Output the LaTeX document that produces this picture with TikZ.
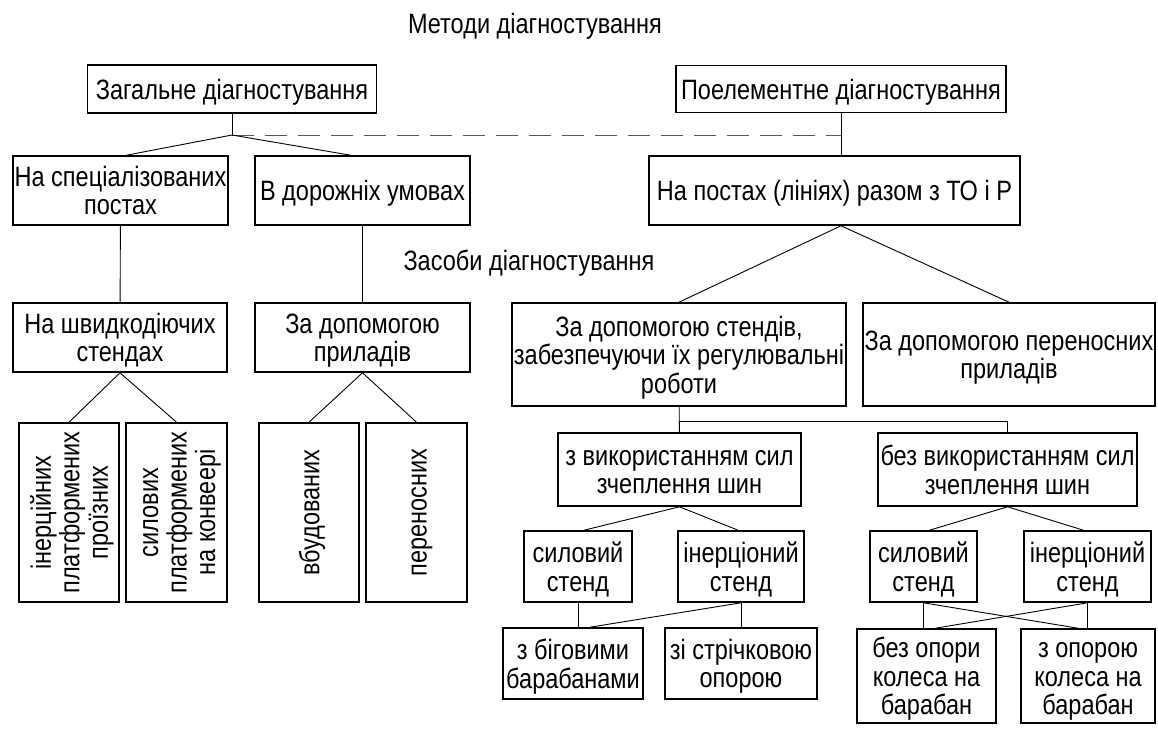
\documentclass[tikz,border=0pt]{standalone}
\usepackage{fontspec}
\setmainfont{Liberation Sans}[FakeStretch=0.84]
% first-line strut, so every box is centred on cap height and baseline
\newcommand\cs{\rule{0pt}{20pt}}
\tikzset{
  box/.style 2 args={draw, line width=1.6pt, minimum width=#1, minimum height=#2,
    inner sep=0pt, align=center, font=\fontsize{28}{28.5}\selectfont, text depth=0pt},
  vbox/.style 2 args={box={#1}{#2}, rotate=90},
  heading/.style={font=\fontsize{28}{28.5}\selectfont},
  link/.style={line width=0.9pt},
  hint/.style={line width=1pt, black!65, dash pattern=on 22pt off 11pt},
}
\begin{document}
\begin{tikzpicture}[x=1pt,y=-1pt]
      \useasboundingbox (0,0) rectangle (1158,728);
      \draw
        (535,33) node[heading,anchor=base] (title){Методи діагностування}
        (400,270) node[heading,anchor=base west] (means){Засоби діагностування}
        (232,89) node[box={289pt}{48pt}] (gen){\cs Загальне діагностування}
        (841,89) node[box={330pt}{47pt}] (elem){\cs Поелементне діагностування}
        (120.5,190.5) node[box={215pt}{69pt}] (spec){\cs На спеціалізованих\\постах}
        (362.5,190.5) node[box={215pt}{69pt}] (road){\cs В дорожніх умовах}
        (834.5,190.5) node[box={371pt}{69pt}] (posts){\cs На постах (лініях) разом з ТО і Р}
        (120,337.5) node[box={214pt}{69pt}] (fast){\cs На швидкодіючих\\стендах}
        (362.5,337.5) node[box={215pt}{69pt}] (instr){\cs За допомогою\\приладів}
        (679,354.5) node[box={334pt}{103pt}] (stands){\cs За допомогою стендів,\\забезпечуючи їх регулювальні\\роботи}
        (1009,354.5) node[box={292pt}{103pt}] (portable){\cs За допомогою переносних\\приладів}
        (69,512.5) node[vbox={179pt}{100pt}] (v1){\cs інерційних\\платформених\\проїзних}
        (176.5,512.5) node[vbox={179pt}{101pt}] (v2){\cs силових\\платформених\\на конвеері}
        (309,512.5) node[vbox={179pt}{100pt}] (v3){\cs вбудованих}
        (416.5,512.5) node[vbox={179pt}{101pt}] (v4){\cs переносних}
        (679.5,469.5) node[box={243pt}{73pt}] (use){\cs з використанням сил\\зчеплення шин}
        (1007.5,469.5) node[box={259pt}{73pt}] (nouse){\cs без використанням сил\\зчеплення шин}
        (578,566.5) node[box={108pt}{71pt}] (pow1){\cs силовий\\стенд}
        (741,566.5) node[box={126pt}{71pt}] (in1){\cs інерціоний\\стенд}
        (923.5,566.5) node[box={107pt}{71pt}] (pow2){\cs силовий\\стенд}
        (1087.5,566.5) node[box={127pt}{71pt}] (in2){\cs інерціоний\\стенд}
        (573,663.5) node[box={140pt}{71pt}] (drums){\cs з біговими\\барабанами}
        (741,663.5) node[box={152pt}{71pt}] (tape){\cs зі стрічковою\\опорою}
        (926.5,676) node[box={139pt}{94pt}] (nosup){\cs без опори\\колеса на\\барабан}
        (1088,676) node[box={134pt}{94pt}] (sup){\cs з опорою\\колеса на\\барабан};
      \coordinate (fork1) at (232,135);
      \coordinate (fork2) at (679,421);
      \draw[hint] (fork1) -- (elem.south |- fork1);
      \begin{scope}[link]
        \draw (gen) -- (fork1);
        \draw (fork1) -- ([xshift=6pt]spec.north);
        \draw (fork1) -- ([xshift=-12pt]road.north);
        \draw (elem) -- (elem.south |- posts.north);
        \draw (spec) -- (fast);
        \draw (road) -- (instr);
        \draw (posts.south -| elem.south) -- (stands.north);
        \draw (posts.south -| elem.south) -- (portable.north);
        \draw (fast.south) -- (v1.east);
        \draw (fast.south) -- (v2.east);
        \draw (instr.south) -- (v3.east);
        \draw (instr.south) -- (v4.east);
        \draw (stands) -- (use);
        \draw (fork2) -| (nouse.north);
        \draw (use.south) -- ([xshift=6pt]pow1.north);
        \draw (use.south) -- ([xshift=-3pt]in1.north);
        \draw (nouse.south) -- ([xshift=6pt]pow2.north);
        \draw (nouse.south) -- ([xshift=-4pt]in2.north);
        \draw (pow1.south) -- (pow1.south |- drums.north);
        \draw (in1.south) -- ([xshift=17pt]drums.north);
        \draw (in1.south) -- (tape.north);
        \draw (pow2.south) -- (pow2.south |- nosup.north);
        \draw (pow2.south) -- ([xshift=-10pt]sup.north);
        \draw (in2.south) -- ([xshift=9pt]nosup.north);
        \draw (in2.south) -- (in2.south |- sup.north);
      \end{scope}
    \end{tikzpicture}
\end{document}
